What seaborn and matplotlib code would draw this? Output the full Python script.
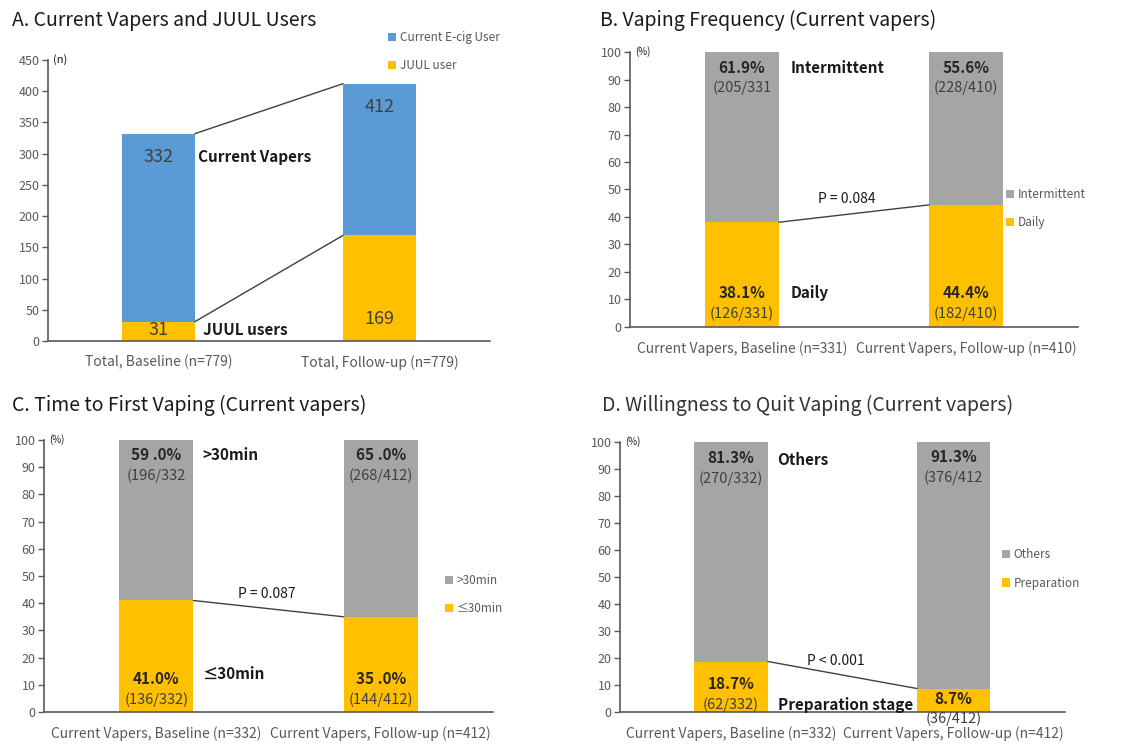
import matplotlib
matplotlib.use("Agg")
import matplotlib.pyplot as plt
import seaborn as sns
from matplotlib.patches import Patch

sns.set_theme(style="white")
plt.rcParams['font.family'] = ['Noto Sans CJK KR', 'DejaVu Sans']

BLUE = "#5B9BD5"
GOLD = "#FFC000"
GRAY = "#A5A5A5"
AXC = "#595959"
TXT = "#404040"
DARK = "#1a1a1a"
W = 0.33

# ---------------- data ----------------
# Panel A
a_categories = ["Total, Baseline (n=779)", "Total, Follow-up (n=779)"]
a_current = [332, 412]
a_juul = [31, 169]

# Panel B
b_categories = ["Current Vapers, Baseline (n=331)", "Current Vapers, Follow-up (n=410)"]
b_intermittent = [61.9, 55.6]
b_daily = [38.1, 44.4]
b_intermittent_lbl = ["61.9%", "55.6%"]
b_daily_lbl = ["38.1%", "44.4%"]
b_intermittent_n = ["(205/331", "(228/410)"]
b_daily_n = ["(126/331)", "(182/410)"]

# Panel C
c_categories = ["Current Vapers, Baseline (n=332)", "Current Vapers, Follow-up (n=412)"]
c_over30 = [59.0, 65.0]
c_under30 = [41.0, 35.0]
c_over30_lbl = ["59 .0%", "65 .0%"]
c_under30_lbl = ["41.0%", "35 .0%"]
c_over30_n = ["(196/332", "(268/412)"]
c_under30_n = ["(136/332)", "(144/412)"]

# Panel D
d_categories = ["Current Vapers, Baseline (n=332)", "Current Vapers, Follow-up (n=412)"]
d_others = [81.3, 91.3]
d_prep = [18.7, 8.7]
d_others_lbl = ["81.3%", "91.3%"]
d_prep_lbl = ["18.7%", "8.7%"]
d_others_n = ["(270/332)", "(376/412"]
d_prep_n = ["(62/332)", "(36/412)"]

# ---------------- figure ----------------
fig = plt.figure(figsize=(11.31, 7.44), dpi=100)
axA = fig.add_axes([0.0424, 0.5417, 0.3908, 0.3777])
axB = fig.add_axes([0.557, 0.5605, 0.3961, 0.3696])
axC = fig.add_axes([0.0389, 0.043, 0.397, 0.3656])
axD = fig.add_axes([0.548, 0.043, 0.3936, 0.363])

BAR_KW = dict(width=W, saturation=1, edgecolor="none", linewidth=0)


def style(ax, ymax, step, unit):
    ax.set_xlim(-0.5, 1.5)
    ax.set_ylim(0, ymax)
    ax.set_yticks(range(0, ymax + 1, step))
    sns.despine(ax=ax)
    for s in ("left", "bottom"):
        ax.spines[s].set_color(AXC)
        ax.spines[s].set_linewidth(1.2)
    ax.tick_params(axis="y", left=True, length=4, width=1, color=AXC,
                   labelcolor=AXC, labelsize=9, pad=2)
    ax.tick_params(axis="x", bottom=False, length=0, labelcolor=AXC,
                   labelsize=10, pad=10)
    ax.set_xlabel("")
    ax.set_ylabel("")
    ax.text(0.012, 1.0, unit, transform=ax.transAxes, ha="left", va="center",
            fontsize=7 if unit == "(%)" else 8, color=DARK)


def legend(ax, labels, colors, x, y):
    handles = [Patch(facecolor=c, edgecolor="none") for c in colors]
    lg = ax.legend(handles, labels, loc="center left", bbox_to_anchor=(x, y),
                   frameon=False, fontsize=8.5, handlelength=0.7, handleheight=0.7,
                   handletextpad=0.3, labelspacing=1.3, borderpad=0, borderaxespad=0)
    for t in lg.get_texts():
        t.set_color(AXC)


# ---- Panel A ----
sns.barplot(x=a_categories, y=a_current, color=BLUE, ax=axA, **BAR_KW)
sns.barplot(x=a_categories, y=a_juul, color=GOLD, ax=axA, **BAR_KW)
style(axA, 450, 50, "(n)")
axA.plot([W / 2, 1 - W / 2], a_current, color="#404040", lw=1)
axA.plot([W / 2, 1 - W / 2], a_juul, color="#404040", lw=1)
axA.text(0, 295, str(a_current[0]), ha="center", va="center", fontsize=13, color=TXT)
axA.text(1, 375, str(a_current[1]), ha="center", va="center", fontsize=13, color=TXT)
axA.text(0, 17, str(a_juul[0]), ha="center", va="center", fontsize=13, color=TXT)
axA.text(1, 35, str(a_juul[1]), ha="center", va="center", fontsize=13, color=TXT)
axA.text(0.18, 295, "Current Vapers", ha="left", va="center", fontsize=11,
         fontweight="bold", color=DARK)
axA.text(0.2, 17, "JUUL users", ha="left", va="center", fontsize=11,
         fontweight="bold", color=DARK)
legend(axA, ["Current E-cig User", "JUUL user"], [BLUE, GOLD], 0.769, 1.03)


def pct_panel(ax, cats, top, bottom, top_lbl, bottom_lbl, top_n, bottom_n,
              ytop, ybot):
    total = [t + b for t, b in zip(top, bottom)]
    sns.barplot(x=cats, y=total, color=GRAY, ax=ax, **BAR_KW)
    sns.barplot(x=cats, y=bottom, color=GOLD, ax=ax, **BAR_KW)
    style(ax, 100, 10, "(%)")
    ax.plot([W / 2, 1 - W / 2], bottom, color="#404040", lw=1)
    for i in range(2):
        ax.text(i, ytop[i][0], top_lbl[i], ha="center", va="center", fontsize=11,
                fontweight="bold", color="#262626")
        ax.text(i, ytop[i][1], top_n[i], ha="center", va="center", fontsize=10.5,
                color=TXT)
        ax.text(i, ybot[i][0], bottom_lbl[i], ha="center", va="center", fontsize=11,
                fontweight="bold", color="#262626")
        ax.text(i, ybot[i][1], bottom_n[i], ha="center", va="center", fontsize=10.5,
                color=TXT)


# ---- Panel B ----
pct_panel(axB, b_categories, b_intermittent, b_daily, b_intermittent_lbl, b_daily_lbl,
          b_intermittent_n, b_daily_n, [(94.2, 87), (94.2, 87)], [(12.4, 5), (12.4, 5)])
axB.text(0.218, 94.2, "Intermittent", ha="left", va="center", fontsize=11,
         fontweight="bold", color=DARK)
axB.text(0.218, 12.4, "Daily", ha="left", va="center", fontsize=11,
         fontweight="bold", color=DARK)
axB.text(0.47, 46.5, "P = 0.084", ha="center", va="center", fontsize=10, color=DARK)
legend(axB, ["Intermittent", "Daily"], [GRAY, GOLD], 0.839, 0.431)

# ---- Panel C ----
pct_panel(axC, c_categories, c_over30, c_under30, c_over30_lbl, c_under30_lbl,
          c_over30_n, c_under30_n, [(94.5, 87), (94.5, 87)], [(12.1, 4.4), (12.1, 4.4)])
axC.text(0.206, 94.5, ">30min", ha="left", va="center", fontsize=11,
         fontweight="bold", color=DARK)
axC.text(0.206, 14, "≤30min", ha="left", va="center", fontsize=11,
         fontweight="bold", color=DARK)
axC.text(0.49, 43.4, "P = 0.087", ha="center", va="center", fontsize=10, color=DARK)
legend(axC, [">30min", "≤30min"], [GRAY, GOLD], 0.893, 0.432)

# ---- Panel D ----
pct_panel(axD, d_categories, d_others, d_prep, d_others_lbl, d_prep_lbl,
          d_others_n, d_prep_n, [(94, 86.3), (94.5, 86.8)], [(10.3, 2.9), (4.8, -2.6)])
axD.text(0.207, 93.4, "Others", ha="left", va="center", fontsize=11,
         fontweight="bold", color=DARK)
axD.text(0.21, 2.6, "Preparation stage", ha="left", va="center", fontsize=11,
         fontweight="bold", color=DARK)
axD.text(0.47, 19, "P < 0.001", ha="center", va="center", fontsize=10, color=DARK)
legend(axD, ["Others", "Preparation"], [GRAY, GOLD], 0.858, 0.53)

# ---- titles ----
fig.text(0.0106, 0.973, "A. Current Vapers and JUUL Users", ha="left", va="center",
         fontsize=14, color=DARK)
fig.text(0.5305, 0.973, "B. Vaping Frequency (Current vapers)", ha="left", va="center",
         fontsize=14, color=DARK)
fig.text(0.0106, 0.4556, "C. Time to First Vaping (Current vapers)", ha="left",
         va="center", fontsize=14, color=DARK)
fig.text(0.532, 0.4556, "D. Willingness to Quit Vaping (Current vapers)", ha="left",
         va="center", fontsize=14, color="#333333")

fig.savefig("out.png", dpi=100)
